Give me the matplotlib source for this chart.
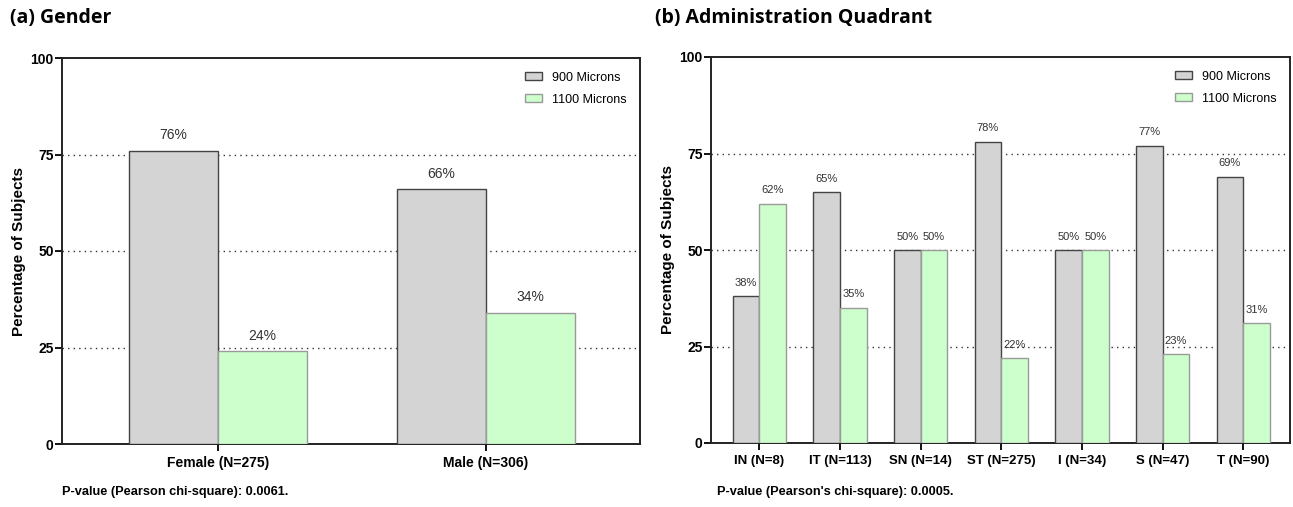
import matplotlib.pyplot as plt
import numpy as np

# data
gender_labels = ['Female (N=275)', 'Male (N=306)']
gender_900 = [76, 66]
gender_1100 = [24, 34]

quad_labels = ['IN (N=8)', 'IT (N=113)', 'SN (N=14)', 'ST (N=275)', 'I (N=34)', 'S (N=47)', 'T (N=90)']
quad_900 = [38, 65, 50, 78, 50, 77, 69]
quad_1100 = [62, 35, 50, 22, 50, 23, 31]

series_names = ['900 Microns', '1100 Microns']
gray_fill = '#d4d4d4'
green_fill = '#ccffcc'

plt.rcParams['font.family'] = ['Liberation Sans', 'DejaVu Sans']

fig = plt.figure(figsize=(12.93, 5.07), dpi=100)
ax1 = fig.add_axes([62 / 1293, 1 - 444 / 507, (640 - 62) / 1293, (444 - 58) / 507])
ax2 = fig.add_axes([711 / 1293, 1 - 443 / 507, (1290 - 711) / 1293, (443 - 57) / 507])


def draw_panel(ax, labels, v900, v1100, width, xlim, lab_size, tick_size, gap):
    x = np.arange(len(labels))
    b1 = ax.bar(x - width / 2, v900, width, color=gray_fill, edgecolor='#444444',
                linewidth=1.0, label=series_names[0], zorder=3)
    b2 = ax.bar(x + width / 2, v1100, width, color=green_fill, edgecolor='#9a9a9a',
                linewidth=1.0, label=series_names[1], zorder=3)
    for bars in (b1, b2):
        for r in bars:
            h = r.get_height()
            ax.text(r.get_x() + r.get_width() / 2, h + gap, f'{h:.0f}%', ha='center',
                    va='bottom', fontsize=lab_size, color='#333333')
    ax.set_xlim(*xlim)
    ax.set_ylim(0, 100)
    ax.set_yticks([0, 25, 50, 75, 100])
    ax.set_xticks(x)
    ax.set_xticklabels(labels)
    for yv in (25, 50, 75):
        ax.axhline(yv, color='#333333', linestyle=(0, (1, 3)), linewidth=1.0, zorder=1)
    for s in ax.spines.values():
        s.set_linewidth(1.4)
        s.set_color('#222222')
    ax.tick_params(axis='both', direction='out', length=5, width=1.3, labelsize=10)
    ax.tick_params(axis='y', pad=1)
    ax.tick_params(axis='x', labelsize=tick_size)
    for t in ax.get_xticklabels() + ax.get_yticklabels():
        t.set_fontweight('bold')
    ax.set_ylabel('Percentage of Subjects', fontsize=11, fontweight='bold', labelpad=3)
    ax.legend(loc='upper right', frameon=False, fontsize=9, handlelength=1.3,
              handleheight=0.6, borderaxespad=0.7, labelspacing=0.8)


draw_panel(ax1, gender_labels, gender_900, gender_1100, 0.332, (-0.582, 1.575), 10, 10, 2.2)
draw_panel(ax2, quad_labels, quad_900, quad_1100, 0.33, (-0.6, 6.58), 8, 9.5, 2.2)

fig.text(10 / 1293, 1 - 18 / 507, '(a) Gender', fontsize=14, fontweight='bold',
         family=['Open Sans', 'DejaVu Sans'], va='center', ha='left')
fig.text(655 / 1293, 1 - 18 / 507, '(b) Administration Quadrant', fontsize=14, fontweight='bold',
         family=['Open Sans', 'DejaVu Sans'], va='center', ha='left')
fig.text(62 / 1293, 1 - 492 / 507, 'P-value (Pearson chi-square): 0.0061.', fontsize=9.2,
         fontweight='bold', va='center', ha='left')
fig.text(717 / 1293, 1 - 492 / 507, "P-value (Pearson's chi-square): 0.0005.", fontsize=9.2,
         fontweight='bold', va='center', ha='left')

fig.savefig('out.png', dpi=100)
